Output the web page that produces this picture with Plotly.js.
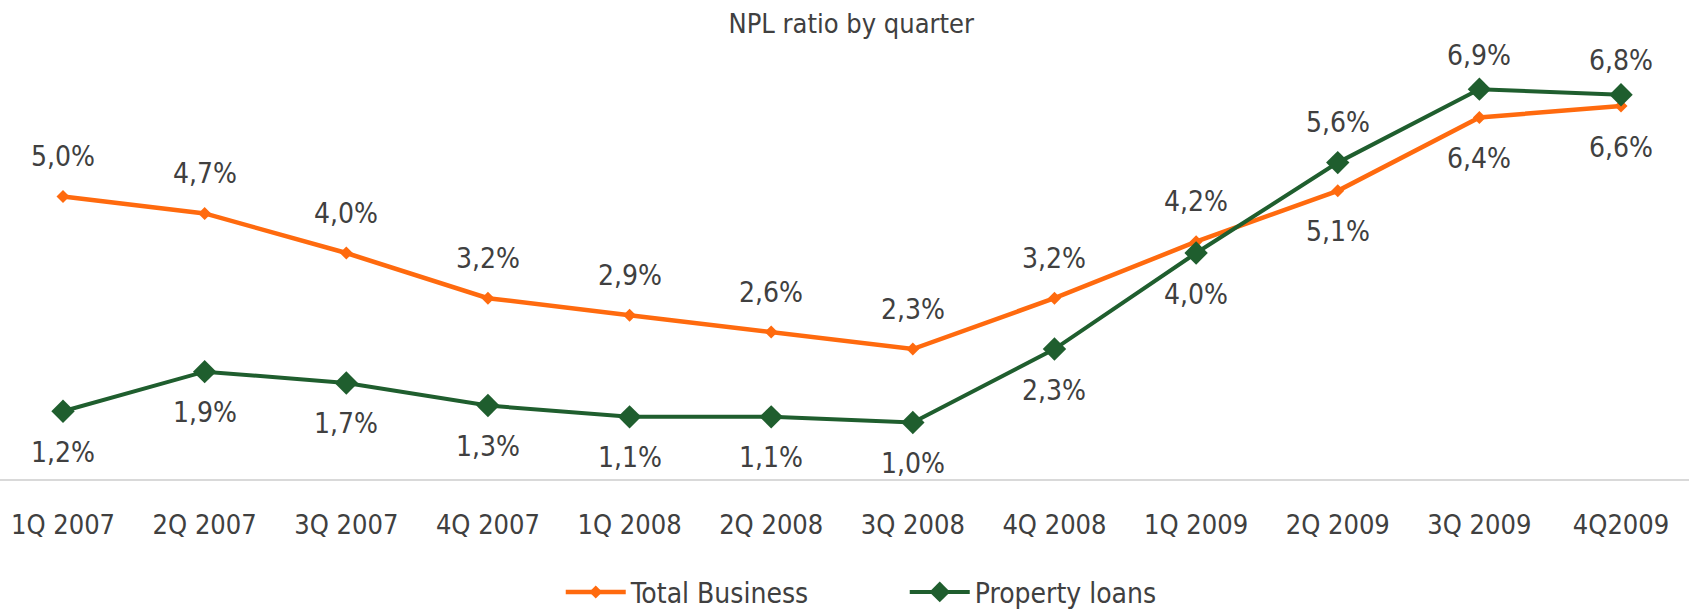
<!DOCTYPE html>
<html>
<head>
<meta charset="utf-8">
<script src="https://cdn.plot.ly/plotly-3.0.1.min.js"></script>
<style>html,body{margin:0;padding:0;background:#fff;}#chart{width:1689px;height:613px;}</style>
</head>
<body>
<div id="chart"></div>
<script>
var quarters = ["1Q 2007","2Q 2007","3Q 2007","4Q 2007","1Q 2008","2Q 2008","3Q 2008","4Q 2008","1Q 2009","2Q 2009","3Q 2009","4Q2009"];
var totalBusiness = [5.0, 4.7, 4.0, 3.2, 2.9, 2.6, 2.3, 3.2, 4.2, 5.1, 6.4, 6.6];
var propertyLoans = [1.2, 1.9, 1.7, 1.3, 1.1, 1.1, 1.0, 2.3, 4.0, 5.6, 6.9, 6.8];
var totalBelow = [false,false,false,false,false,false,false,false,false,true,true,true];
var propertyBelow = [true,true,true,true,true,true,true,true,true,false,false,false];

var ORANGE = "#ff6a0e";
var GREEN = "#1f5e2e";
var TEXT = "#404040";
var FONT = "'DejaVu Sans Condensed', 'DejaVu Sans', sans-serif";

var idx = quarters.map(function(_, i){ return i; });

function fmt(v){ return v.toFixed(1).replace('.', ',') + '%'; }

var traces = [
  {
    x: idx, y: totalBusiness, name: "Total Business", type: "scatter", mode: "lines+markers",
    line: {color: ORANGE, width: 4.5},
    marker: {symbol: "diamond", size: 10, color: ORANGE},
    hoverinfo: "skip"
  },
  {
    x: idx, y: propertyLoans, name: "Property loans", type: "scatter", mode: "lines+markers",
    line: {color: GREEN, width: 4},
    marker: {symbol: "diamond", size: 18, color: GREEN},
    hoverinfo: "skip"
  }
];

var annotations = [];
function addLabels(vals, below){
  vals.forEach(function(v, i){
    var shift;
    if (below[i]) shift = -41;
    else shift = (v > 6.7) ? 34 : 40;
    annotations.push({
      x: i, y: v, xref: "x", yref: "y", text: fmt(v), showarrow: false,
      yshift: shift, yanchor: "middle", xanchor: "center",
      font: {family: FONT, size: 28, color: TEXT}
    });
  });
}
addLabels(totalBusiness, totalBelow);
addLabels(propertyLoans, propertyBelow);

var layout = {
  width: 1689, height: 613,
  margin: {l: 0, r: 0, t: 40, b: 134, pad: 0, autoexpand: false},
  paper_bgcolor: "#ffffff", plot_bgcolor: "#ffffff",
  title: {text: "NPL ratio by quarter", x: 0.504, xanchor: "center", y: 0.962, yanchor: "middle",
          font: {family: FONT, size: 27, color: TEXT}},
  showlegend: true,
  legend: {orientation: "h", x: 0.332, xanchor: "left", y: -0.258, yanchor: "middle",
           font: {family: FONT, size: 28, color: TEXT}, itemwidth: 60,
           entrywidth: 269, entrywidthmode: "pixels",
           itemclick: false, itemdoubleclick: false},
  xaxis: {
    range: [-0.445, 11.48], tickmode: "array", tickvals: idx, ticktext: quarters,
    showgrid: false, zeroline: false, showline: true, linecolor: "#d9d9d9", linewidth: 1.5,
    ticks: "", ticklabelstandoff: 21,
    tickfont: {family: FONT, size: 27, color: TEXT}, fixedrange: true
  },
  yaxis: {
    range: [0, 7.77], showgrid: false, zeroline: false, showline: false,
    showticklabels: false, ticks: "", fixedrange: true
  },
  annotations: annotations
};

Plotly.newPlot("chart", traces, layout, {staticPlot: true, displayModeBar: false});
</script>
</body>
</html>
